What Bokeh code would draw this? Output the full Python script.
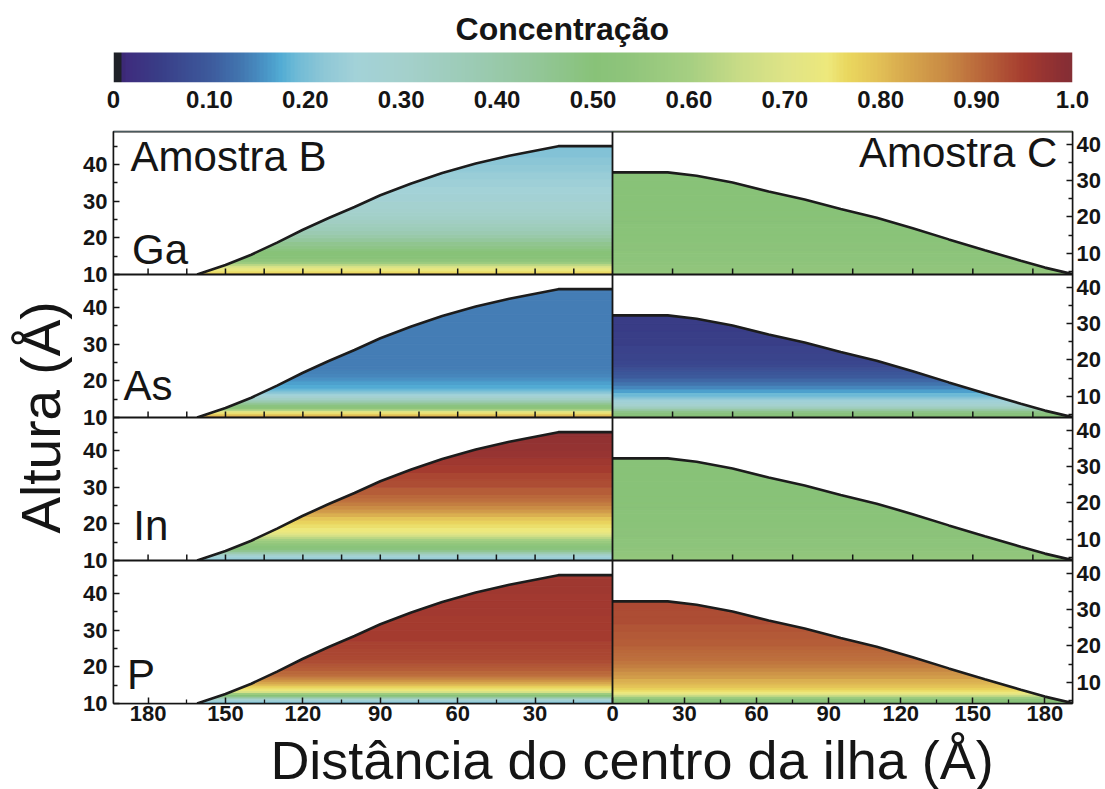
import numpy as np
from bokeh.plotting import figure
from bokeh.models import Range1d, LinearAxis, FixedTicker, Label, Span, ColumnDataSource, LinearColorMapper
from bokeh.layouts import column
from bokeh.embed import file_html
from bokeh.resources import INLINE
from bokeh.transform import linear_cmap

# ---------------- colour scale ----------------
CMAP_POS = [0.0, 0.006, 0.008, 0.046, 0.098, 0.132, 0.159, 0.173, 0.187, 0.218, 0.252,
            0.303, 0.372, 0.44, 0.502, 0.533, 0.602, 0.653, 0.705, 0.746, 0.766, 0.797,
            0.828, 0.869, 0.91, 0.952, 0.993, 1.0]
CMAP_HEX = ["#1e2128", "#1e2128", "#3f2a7d", "#393d87", "#3d5a9c", "#4276b0", "#4a98c8",
            "#52acd4", "#6cb9d6", "#8ec7d6", "#a3d2d8", "#a4d0cc", "#9ccbb5", "#93c699",
            "#88c278", "#8ec47b", "#a6cf82", "#c8dc86", "#e0e486", "#ede87c", "#ead85f",
            "#e3c257", "#d7a84d", "#c98a44", "#b8643a", "#a53b2f", "#892e34", "#852f35"]
CB_TITLE = "Concentração"
CB_TICKS = [0.0, 0.1, 0.2, 0.3, 0.4, 0.5, 0.6, 0.7, 0.8, 0.9, 1.0]
CB_LABELS = ["0", "0.10", "0.20", "0.30", "0.40", "0.50", "0.60", "0.70", "0.80", "0.90", "1.0"]

# ---------------- panels ----------------
ELEMENTS = ["Ga", "As", "In", "P"]
SAMPLE_B = "Amostra B"
SAMPLE_C = "Amostra C"
X_TITLE = "Distância do centro da ilha (Å)"
Y_TITLE = "Altura (Å)"

# axis extents
XB_MAX = 193.4           # Amostra B: distance axis runs 193.4 -> 0
YB_BOT, YB_TOP = 10.0, 49.0
XC_MAX = 191.5           # Amostra C: distance axis runs 0 -> 191.5
YC_BOT, YC_TOP = 4.1, 43.6

# island profiles (height vs distance from centre)
B_X = [161, 150, 140, 130, 120, 110, 100, 90, 78, 66, 53, 40, 29, 21, 0]
B_Y = [10.0, 12.6, 15.4, 18.7, 22.2, 25.4, 28.4, 31.6, 34.8, 37.7, 40.3, 42.4, 43.9, 45.0, 45.0]
C_X = [0, 23, 35, 50, 65, 80, 95, 110, 125, 140, 155, 170, 180, 191.5]
C_Y = [32.3, 32.3, 31.4, 29.5, 27.0, 24.8, 22.2, 19.8, 16.9, 13.8, 10.8, 7.9, 6.0, 4.2]

# concentration vs height (bottom edge of each height band)
LEVELS_B = [10, 10.5, 11, 11.5, 12, 12.5, 13, 13.5, 14, 14.5, 15, 15.5, 16, 16.5, 17, 17.5,
            18, 19, 20, 21, 22, 23, 24, 25, 26, 27, 28, 30, 32, 34, 36, 38, 40, 42, 44]
GA_B = [.80, .76, .74, .72, .68, .63, .58, .54, .52, .50, .50, .50, .50, .49, .48, .47,
        .46, .43, .40, .38, .36, .35, .33, .32, .31, .30, .29, .27, .255, .245, .235, .225, .215, .21, .205]
AS_B = [.84, .80, .75, .70, .60, .52, .49, .46, .41, .36, .32, .28, .25, .22, .20, .185,
        .175, .165, .155, .148, .143, .14, .14, .14, .14, .14, .14, .14, .14, .14, .14, .14, .14, .14, .14]
IN_B = [.22, .24, .27, .33, .40, .46, .49, .51, .53, .55, .57, .60, .63, .67, .70, .73,
        .745, .755, .77, .79, .82, .845, .865, .88, .895, .905, .915, .93, .94, .95, .96, .97, .975, .98, .985]
P_B = [.20, .24, .30, .42, .50, .58, .68, .74, .76, .78, .81, .83, .85, .87, .885, .895,
       .905, .915, .925, .93, .935, .94, .94, .945, .945, .95, .95, .95, .95, .955, .955, .955, .96, .96, .96]

LEVELS_C = [4.1, 4.5, 5, 5.5, 6, 6.5, 7, 7.5, 8, 8.5, 9, 9.5, 10, 11, 12, 13, 14, 15, 16,
            17, 18, 19, 20, 22, 24, 26, 28, 30, 32]
GA_C = [.55, .55, .545, .54, .54, .54, .535, .535, .53, .53, .53, .53, .525, .52, .52, .515,
        .515, .51, .51, .51, .505, .505, .50, .50, .50, .50, .50, .50, .50]
AS_C = [.50, .50, .49, .47, .42, .36, .32, .29, .27, .25, .23, .21, .19, .165, .145, .13,
        .115, .10, .09, .08, .07, .065, .06, .055, .05, .048, .046, .045, .045]
IN_C = [.55, .55, .545, .54, .54, .54, .535, .535, .53, .53, .53, .53, .525, .52, .52, .515,
        .515, .51, .51, .51, .505, .505, .50, .50, .50, .50, .50, .50, .50]
P_C = [.50, .50, .52, .57, .64, .71, .745, .76, .775, .79, .80, .81, .82, .84, .855, .87,
       .88, .89, .895, .90, .905, .91, .915, .92, .925, .93, .932, .935, .937]

CONC_B = [GA_B, AS_B, IN_B, P_B]
CONC_C = [GA_C, AS_C, IN_C, P_C]

# ticks
YB_TICKS, YB_MINOR = [10, 20, 30, 40], [15, 25, 35, 45]
YC_TICKS, YC_MINOR = [10, 20, 30, 40], [5, 15, 25, 35]
XB_TICKS, XB_MINOR = [180, 150, 120, 90, 60, 30, 0], [165, 135, 105, 75, 45, 15]
XC_TICKS, XC_MINOR = [30, 60, 90, 120, 150, 180], [15, 45, 75, 105, 135, 165]
XB_UPPER_TICKS = [15, 30, 45, 60, 75, 90, 105, 120, 135, 150, 165, 180]
XC_UPPER_TICKS = [25, 50, 75, 100, 125, 150, 175]

FONT = "Liberation Sans"
INK = "#151515"


def build_palette(n=256):
    t = np.linspace(0, 1, n)
    rgb = np.array([[int(h[1:3], 16), int(h[3:5], 16), int(h[5:7], 16)] for h in CMAP_HEX], float)
    ch = [np.interp(t, CMAP_POS, rgb[:, k]) for k in range(3)]
    return ["#%02x%02x%02x" % (int(round(r)), int(round(g)), int(round(b))) for r, g, b in zip(*ch)]


PALETTE = build_palette()
CMAP = linear_cmap("c", PALETTE, 0, 1)

# ---------------- colour bar figure (frame spans title + bar) ----------------
cb = figure(width=1105, height=125, x_range=Range1d(0, 1), y_range=Range1d(0, 82 / 30),
            x_axis_type=None, y_axis_type=None, toolbar_location=None, output_backend="svg",
            min_border_left=105, min_border_right=28, min_border_top=0, min_border_bottom=43)
cb.outline_line_color = None
cb.image(image=[np.linspace(0, 1, 972).reshape(1, -1)], x=0, y=0, dw=1, dh=1,
         color_mapper=LinearColorMapper(palette=PALETTE, low=0, high=1))
cb_axis = LinearAxis(ticker=FixedTicker(ticks=CB_TICKS, minor_ticks=[]),
                     major_label_overrides=dict(zip(CB_TICKS, CB_LABELS)),
                     major_tick_in=0, major_tick_out=0, axis_line_color=None,
                     minor_tick_line_color=None, major_label_standoff=8,
                     major_label_text_font=FONT, major_label_text_font_style="bold",
                     major_label_text_font_size="24px", major_label_text_color=INK)
cb.add_layout(cb_axis, "below")
cb.add_layout(Label(x=0.468, y=(82 - 28.5) / 30, text=CB_TITLE, text_align="center",
                    text_baseline="alphabetic", text_font=FONT, text_font_style="bold",
                    text_font_size="32px", text_color=INK))

# ---------------- main figure (4 rows x 2 columns of panels) ----------------
FRAC = 499 / 959   # share of the frame width taken by the Amostra B column
p = figure(width=1105, height=606, x_range=Range1d(0, 1), y_range=Range1d(0, 4),
           x_axis_type=None, y_axis_type=None, toolbar_location=None, output_backend="svg",
           min_border_left=113, min_border_right=33, min_border_top=6, min_border_bottom=28)
p.outline_line_color = INK
p.outline_line_width = 1.5
p.extra_x_ranges = {"XB": Range1d(XB_MAX, XB_MAX - XB_MAX / FRAC),
                    "XC": Range1d(-XC_MAX * FRAC / (1 - FRAC), XC_MAX)}
yr = {}
HB = YB_TOP - YB_BOT
HC = YC_TOP - YC_BOT
for r in range(4):
    sb = YB_BOT - (3 - r) * HB
    yr["B%d" % r] = Range1d(sb, sb + 4 * HB)
    sc = YC_BOT - (3 - r) * HC
    yr["C%d" % r] = Range1d(sc, sc + 4 * HC)
p.extra_y_ranges = yr

for r, el in enumerate(ELEMENTS):
    # --- Amostra B ---
    tops = LEVELS_B[1:] + [YB_TOP]
    src = ColumnDataSource(dict(bottom=LEVELS_B, top=tops, c=CONC_B[r]))
    p.quad(left=0, right=XB_MAX, bottom="bottom", top="top", source=src,
           fill_color=CMAP, line_color=CMAP, line_width=1,
           x_range_name="XB", y_range_name="B%d" % r)
    p.patch(B_X + [0, XB_MAX, XB_MAX], B_Y + [YB_TOP, YB_TOP, YB_BOT],
            fill_color="white", line_color=None, x_range_name="XB", y_range_name="B%d" % r)
    p.line(B_X, B_Y, line_color="#1c1c1c", line_width=2.6,
           x_range_name="XB", y_range_name="B%d" % r)
    # --- Amostra C ---
    tops = LEVELS_C[1:] + [YC_TOP]
    src = ColumnDataSource(dict(bottom=LEVELS_C, top=tops, c=CONC_C[r]))
    p.quad(left=0, right=XC_MAX, bottom="bottom", top="top", source=src,
           fill_color=CMAP, line_color=CMAP, line_width=1,
           x_range_name="XC", y_range_name="C%d" % r)
    p.patch(C_X + [XC_MAX, 0], C_Y + [YC_TOP, YC_TOP],
            fill_color="white", line_color=None, x_range_name="XC", y_range_name="C%d" % r)
    p.line(C_X, C_Y, line_color="#1c1c1c", line_width=2.6,
           x_range_name="XC", y_range_name="C%d" % r)
    # inward ticks on the bottom edge of the upper rows
    if r < 3:
        lb = 6 * HB / 143.0
        p.segment(x0=XB_UPPER_TICKS, y0=[YB_BOT] * len(XB_UPPER_TICKS),
                  x1=XB_UPPER_TICKS, y1=[YB_BOT + lb] * len(XB_UPPER_TICKS),
                  line_color=INK, line_width=1.5, x_range_name="XB", y_range_name="B%d" % r)
        lc = 6 * HC / 143.0
        p.segment(x0=XC_UPPER_TICKS, y0=[YC_BOT] * len(XC_UPPER_TICKS),
                  x1=XC_UPPER_TICKS, y1=[YC_BOT + lc] * len(XC_UPPER_TICKS),
                  line_color=INK, line_width=1.5, x_range_name="XC", y_range_name="C%d" % r)

# panel borders
for k in [1, 2, 3, 4]:
    p.add_layout(Span(location=k, dimension="width", line_color=INK, line_width=1.8))
p.add_layout(Span(location=FRAC, dimension="height", line_color=INK, line_width=1.8))

# texts inside the panels
TXT = dict(text_font=FONT, text_font_size="42px", text_color=INK, text_baseline="alphabetic")
p.add_layout(Label(x=186.8, y=42.2, text=SAMPLE_B, x_range_name="XB", y_range_name="B0", **TXT))
p.add_layout(Label(x=185.2, y=37.7, text=SAMPLE_C, text_align="right",
                   x_range_name="XC", y_range_name="C0", **TXT))
EL_POS = [(186.2, 16.8), (189.5, 18.7), (185.7, 19.5), (188.2, 17.9)]
for r, el in enumerate(ELEMENTS):
    p.add_layout(Label(x=EL_POS[r][0], y=EL_POS[r][1], text=el,
                       x_range_name="XB", y_range_name="B%d" % r, **TXT))

# composite axes (each row / column has its own scale)
AX = dict(major_tick_in=6, major_tick_out=0, minor_tick_in=4, minor_tick_out=0,
          axis_line_color=INK, axis_line_width=1.5, major_tick_line_color=INK,
          minor_tick_line_color=INK, major_tick_line_width=1.5, minor_tick_line_width=1.3,
          major_label_text_font=FONT, major_label_text_font_style="bold",
          major_label_text_font_size="22px", major_label_text_color=INK)

lt, lm, lo = [], [], {}
rt, rm, ro = [], [], {}
for r in range(4):
    for v in YB_TICKS:
        u = (3 - r) + (v - YB_BOT) / HB
        lt.append(u)
        lo[u] = str(v)
    lm += [(3 - r) + (v - YB_BOT) / HB for v in YB_MINOR]
    for v in YC_TICKS:
        u = (3 - r) + (v - YC_BOT) / HC
        rt.append(u)
        ro[u] = str(v)
    rm += [(3 - r) + (v - YC_BOT) / HC for v in YC_MINOR]

left_axis = LinearAxis(ticker=FixedTicker(ticks=lt, minor_ticks=lm), major_label_overrides=lo,
                       major_label_standoff=6, axis_label=Y_TITLE, axis_label_standoff=8,
                       axis_label_text_font=FONT, axis_label_text_font_style="normal",
                       axis_label_text_font_size="55px", axis_label_text_color=INK, **AX)
p.add_layout(left_axis, "left")
p.add_layout(LinearAxis(ticker=FixedTicker(ticks=rt, minor_ticks=rm), major_label_overrides=ro,
                        major_label_standoff=4, **AX), "right")

xt, xm, xo = [], [], {}
for v in XB_TICKS:
    u = (XB_MAX - v) / XB_MAX * FRAC
    xt.append(u)
    xo[u] = str(v)
for v in XC_TICKS:
    u = FRAC + v / XC_MAX * (1 - FRAC)
    xt.append(u)
    xo[u] = str(v)
xm = [(XB_MAX - v) / XB_MAX * FRAC for v in XB_MINOR] + [FRAC + v / XC_MAX * (1 - FRAC) for v in XC_MINOR]
p.add_layout(LinearAxis(ticker=FixedTicker(ticks=xt, minor_ticks=xm), major_label_overrides=xo,
                        major_label_standoff=2, **AX), "below")

# ---------------- bottom title strip ----------------
bt = figure(width=1105, height=58, x_range=Range1d(0, 1105), y_range=Range1d(0, 58),
            x_axis_type=None, y_axis_type=None, toolbar_location=None, output_backend="svg",
            min_border_left=0, min_border_right=0, min_border_top=0, min_border_bottom=0)
bt.outline_line_color = None
bt.add_layout(Label(x=597.5, y=29.5, text=X_TITLE, text_align="center",
                    text_baseline="alphabetic", text_font=FONT, text_font_size="54px",
                    text_color=INK))

layout = column(cb, p, bt)
open("out.html", "w").write(file_html(layout, INLINE))
